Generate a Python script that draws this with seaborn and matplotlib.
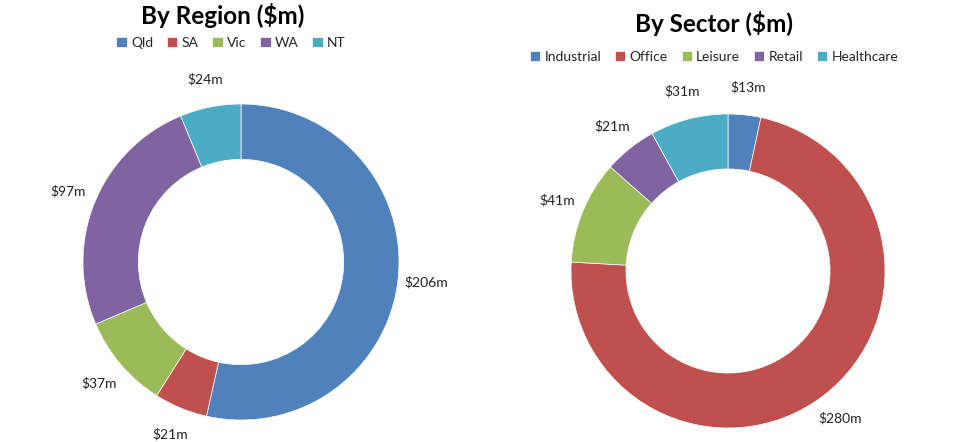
import matplotlib
matplotlib.use("Agg")
import matplotlib.pyplot as plt
import seaborn as sns

sns.set_theme(style="white")
plt.rcParams['font.family'] = ['Lato', 'DejaVu Sans']

region_labels = ["Qld", "SA", "Vic", "WA", "NT"]
region_values = [206, 21, 37, 97, 24]
sector_labels = ["Industrial", "Office", "Leisure", "Retail", "Healthcare"]
sector_values = [13, 280, 41, 21, 31]
colors = sns.color_palette(["#4F81BD", "#C0504D", "#9BBB59", "#8064A2", "#4BACC6"])

W, H = 960, 442
fig = plt.figure(figsize=(W / 100, H / 100), dpi=100)


def donut(cx, cy, r, labels, values, title, title_x, title_y, leg_x, leg_y):
    ax = fig.add_axes([(cx - r) / W, (H - cy - r) / H, 2 * r / W, 2 * r / H])
    wedges, texts = ax.pie(values, colors=colors, startangle=90, counterclock=False,
                           radius=1, wedgeprops=dict(width=0.35, edgecolor="white", linewidth=0.5),
                           labels=[f"${v}m" for v in values], labeldistance=1.18,
                           textprops=dict(fontsize=10, color="#222222"))
    for t in texts:
        t.set_ha("center")
        t.set_va("center")
    ax.set_xlim(-1, 1)
    ax.set_ylim(-1, 1)
    ax.set_aspect("auto")
    ax.axis("off")
    fig.text(title_x / W, 1 - title_y / H, title, ha="center", va="center",
             fontsize=17.5, fontweight="bold", color="black")
    fig.legend(wedges, labels, loc="center", bbox_to_anchor=(leg_x / W, 1 - leg_y / H),
               ncol=5, frameon=False, fontsize=10, handlelength=0.75, handleheight=0.75,
               handletextpad=0.3, columnspacing=1.0, borderaxespad=0)


donut(241, 262, 158, region_labels, region_values, "By Region ($m)", 223, 15, 231, 43)
donut(728, 271, 157, sector_labels, sector_values, "By Sector ($m)", 714, 23, 714, 57)

fig.savefig("out.png", dpi=100)
